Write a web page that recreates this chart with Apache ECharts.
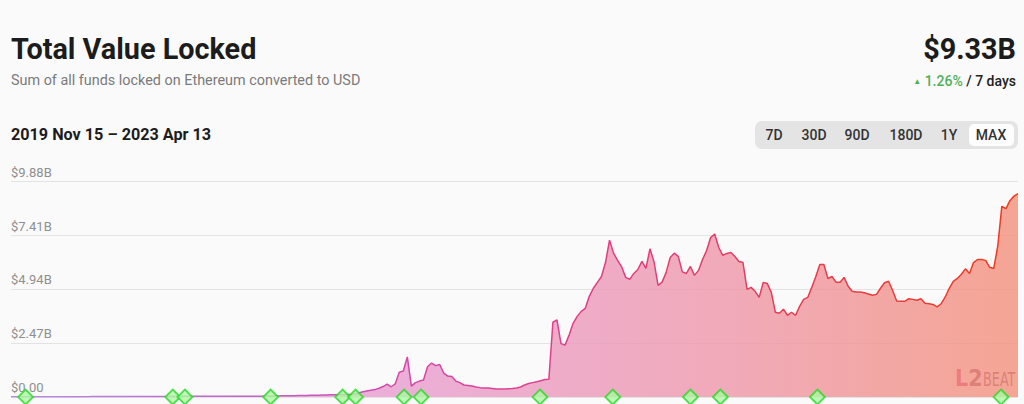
<!DOCTYPE html>
<html>
<head>
<meta charset="utf-8">
<script src="https://cdn.jsdelivr.net/npm/echarts/dist/echarts.min.js"></script>
<style>
html,body{margin:0;padding:0;background:#fafafa;width:1024px;height:404px;overflow:hidden;font-family:Roboto,'Noto Sans',sans-serif;}
#chart{position:absolute;left:0;top:0;width:1024px;height:404px;}
.abs{position:absolute;white-space:nowrap;z-index:3;}
#btns{position:absolute;left:755px;top:121px;width:263px;height:28px;background:#e4e4e4;border-radius:7px;z-index:2;}
#sel{position:absolute;left:969px;top:124px;width:45px;height:22px;background:#fdfdfd;border-radius:5px;z-index:2;}
.btn{position:absolute;top:126px;height:18px;line-height:18px;font-size:14px;font-weight:500;color:#333;transform:translateX(-50%);z-index:3;}
</style>
</head>
<body>
<div id="chart"></div>
<div class="abs" style="left:11px;top:35px;font:700 28.8px/28px Roboto;color:#1c1c1c;">Total Value Locked</div>
<div class="abs" style="left:11px;top:74px;font:400 14.4px/14px Roboto;color:#7b7b7b;">Sum of all funds locked on Ethereum converted to USD</div>
<div class="abs" style="left:11px;top:126px;font:700 16.2px/17px Roboto;color:#1c1c1c;">2019 Nov 15 – 2023 Apr 13</div>
<div class="abs" style="right:8px;top:35px;font:700 28.8px/28px Roboto;color:#1c1c1c;">$9.33B</div>
<div class="abs" style="right:8px;top:74px;font:500 14px/14px Roboto;color:#222;"><span style="color:#4fb05a;"><span style="font-size:8px;position:relative;top:-2px;">▲</span> 1.26%</span> / 7 days</div>
<div id="btns"></div>
<div id="sel"></div>
<div class="btn" style="left:774px;">7D</div>
<div class="btn" style="left:814px;">30D</div>
<div class="btn" style="left:857px;">90D</div>
<div class="btn" style="left:906px;">180D</div>
<div class="btn" style="left:949px;">1Y</div>
<div class="btn" style="left:991px;">MAX</div>
<div class="abs" style="left:955px;top:366px;height:24px;line-height:24px;"><span style="font:700 23px/24px 'DejaVu Sans Condensed';color:rgba(232,100,110,0.65);">L</span><span style="font:700 23px/24px 'DejaVu Sans Condensed';color:rgba(190,80,80,0.45);">2</span><span style="display:inline-block;font:400 19px/24px 'DejaVu Sans Condensed';color:rgba(190,80,80,0.45);transform:scaleX(0.75);transform-origin:left center;">BEAT</span></div>
<script>
// ---- data ----
const startDate = '2019-11-15';
const stepDays = 5;
// Total value locked, billions USD, one value every 5 days from startDate
const tvlBillions = [
  0.01,0.01,0.01,0.01,0.01,0.01,0.01,0.01,0.01,0.01,
  0.01,0.01,0.01,0.01,0.01,0.01,0.01,0.01,0.01,0.01,
  0.02,0.02,0.02,0.02,0.02,0.02,0.02,0.02,0.02,0.02,
  0.02,0.02,0.02,0.02,0.02,0.02,0.02,0.02,0.02,0.02,
  0.02,0.02,0.02,0.03,0.03,0.03,0.03,0.03,0.03,0.03,
  0.03,0.03,0.03,0.03,0.03,0.04,0.04,0.04,0.04,0.04,
  0.04,0.04,0.04,0.05,0.05,0.05,0.05,0.06,0.06,0.06,
  0.06,0.07,0.07,0.07,0.08,0.08,0.08,0.09,0.09,0.10,
  0.10,0.10,0.11,0.12,0.13,0.15,0.18,0.24,0.28,0.31,
  0.34,0.40,0.48,0.59,0.47,0.60,1.14,1.19,1.84,0.50,
  0.66,0.73,0.78,1.39,1.56,1.44,1.49,1.10,0.96,0.94,
  0.73,0.66,0.55,0.53,0.50,0.46,0.43,0.41,0.41,0.39,
  0.37,0.37,0.37,0.38,0.39,0.41,0.46,0.55,0.62,0.66,
  0.70,0.75,0.80,0.82,3.43,3.54,2.45,2.38,2.84,3.38,
  3.70,3.93,4.07,4.62,4.99,5.26,5.53,6.17,7.20,6.60,
  6.27,5.97,5.49,5.40,5.67,5.85,6.22,5.90,6.80,6.20,
  5.12,5.27,5.72,6.40,6.60,6.45,5.74,5.67,5.99,5.58,
  5.81,6.31,6.72,7.32,7.48,6.86,6.50,6.59,6.63,6.45,
  6.22,6.17,4.94,5.03,4.85,4.57,5.26,5.21,4.80,3.89,
  3.84,4.03,3.75,3.89,3.75,4.16,4.48,4.57,5.03,5.53,
  6.08,6.08,5.44,5.53,5.27,5.27,5.49,5.08,4.85,4.82,
  4.82,4.78,4.73,4.67,4.71,4.99,5.24,5.31,4.89,4.41,
  4.39,4.39,4.51,4.48,4.44,4.51,4.30,4.28,4.25,4.14,
  4.28,4.59,4.99,5.31,5.44,5.63,5.88,5.67,6.17,6.31,
  6.31,6.27,5.95,5.90,6.93,8.75,8.64,9.01,9.22,9.33
];
// event markers (green diamonds on the baseline)
const markerDates = [
  '2019-12-03','2020-06-02','2020-06-17','2020-10-01','2020-12-29','2021-01-14',
  '2021-03-15','2021-04-05','2021-08-30','2021-11-28','2022-03-04','2022-04-10',
  '2022-08-08','2023-03-23'
];
// y-axis ticks (billions)
const yTickMax = 9.88;
const yTickStep = 2.47;

// ---- chart ----
const DAY = 86400000;
const t0 = Date.parse(startDate + 'T00:00:00Z');
const lineData = tvlBillions.map((v, i) => [t0 + i * stepDays * DAY, v]);
const markerData = markerDates.map(d => [Date.parse(d + 'T00:00:00Z'), 0]);

const chart = echarts.init(document.getElementById('chart'), null, {renderer: 'svg'});
const G = echarts.graphic.LinearGradient;
chart.setOption({
  animation: false,
  useUTC: true,
  backgroundColor: 'transparent',
  grid: {left: 11, right: 6, top: 181.7, bottom: 7, containLabel: false},
  xAxis: {
    type: 'time', min: t0, max: t0 + (tvlBillions.length - 1) * stepDays * DAY,
    show: false, splitLine: {show: false}
  },
  yAxis: {
    type: 'value', min: 0, max: yTickMax, interval: yTickStep,
    axisLine: {show: false}, axisTick: {show: false},
    splitLine: {lineStyle: {color: '#e3e3e3', width: 1}},
    axisLabel: {
      inside: true, margin: 0, verticalAlign: 'bottom', padding: [0, 0, 3, 0],
      color: '#8f8f8f', fontSize: 13, fontFamily: 'Roboto',
      formatter: v => v === 0 ? '$0.00' : '$' + v.toFixed(2) + 'B'
    }
  },
  series: [
    {
      type: 'line', data: lineData, symbol: 'none', z: 2,
      lineStyle: {width: 1.5, color: new G(0, 0, 1, 0, [
        {offset: 0, color: '#b48be6'}, {offset: 0.28, color: '#c45cc2'},
        {offset: 0.4, color: '#d745a8'}, {offset: 0.6, color: '#e23d80'},
        {offset: 0.8, color: '#e83c4c'}, {offset: 1, color: '#f03a1c'}
      ])},
      areaStyle: {opacity: 1, color: new G(0, 0, 1, 0, [
        {offset: 0, color: 'rgba(226,160,226,0.8)'}, {offset: 0.4, color: 'rgba(232,155,205,0.8)'},
        {offset: 0.7, color: 'rgba(238,150,170,0.8)'}, {offset: 1, color: 'rgba(243,144,122,0.8)'}
      ])}
    },
    {
      type: 'scatter', data: markerData, symbol: 'diamond', symbolSize: 15, z: 5, clip: false,
      itemStyle: {color: '#aef7a2', borderColor: '#2bd82b', borderWidth: 1.8}
    }
  ]
});
</script>
</body>
</html>
